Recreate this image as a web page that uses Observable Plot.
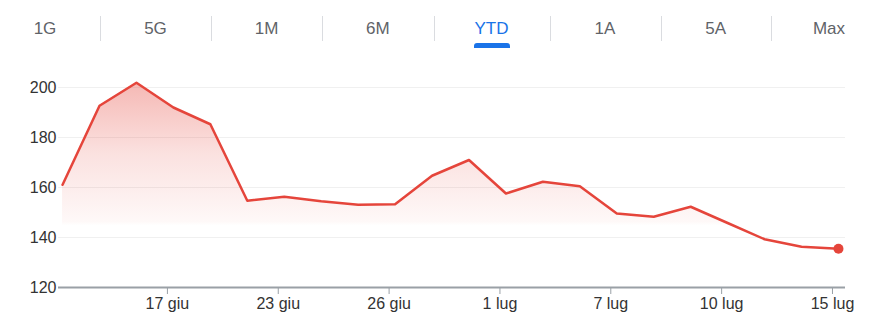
<!DOCTYPE html>
<html>
<head>
<meta charset="utf-8">
<script src="https://cdn.jsdelivr.net/npm/d3@7"></script>
<script src="https://cdn.jsdelivr.net/npm/@observablehq/plot@0.6"></script>
<style>
  html, body { margin: 0; padding: 0; background: #fff; }
  body { width: 872px; height: 336px; overflow: hidden; font-family: Arial, "Liberation Sans", sans-serif; }
  #tabs { position: relative; width: 872px; height: 56px; }
  .tab { position: absolute; top: 17px; height: 24px; line-height: 24px; text-align: center; font-size: 17px; color: #5f6368; }
  .tab.sel { color: #1a73e8; }
  .sep { position: absolute; top: 16px; width: 1px; height: 25px; background: #dadce0; }
  .bar { position: absolute; top: 43px; height: 5px; background: #1a73e8; border-radius: 3px 3px 0 0; }
  #chart svg { display: block; }
</style>
</head>
<body>
<div id="tabs"></div>
<div id="chart"></div>
<script>
// Range tabs
const tabLabels = ["1G", "5G", "1M", "6M", "YTD", "1A", "5A", "Max"];
const selectedTab = "YTD";

// Price series (evenly spaced sessions)
const values = [161.1, 192.7, 201.9, 192.0, 185.3, 154.7, 156.3, 154.5, 153.1, 153.3, 164.7,
                171.0, 157.6, 162.3, 160.5, 149.6, 148.3, 152.3, 145.8, 139.3, 136.3, 135.5];

// X tick labels and the session index they belong to
const xTickLabels = ["17 giu", "23 giu", "26 giu", "1 lug", "7 lug", "10 lug", "15 lug"];
const xTickIndex = [3, 6, 9, 12, 15, 18, 21];

// Y ticks
const yTicks = [120, 140, 160, 180, 200];

// ---- tabs (HTML) ----
const tabs = document.getElementById("tabs");
const tabEdges = [-10, 100, 211, 322, 433.5, 549.5, 660.5, 771, 887];
tabLabels.forEach((t, i) => {
  const x0 = tabEdges[i], x1 = tabEdges[i + 1];
  const el = document.createElement("div");
  el.className = "tab" + (t === selectedTab ? " sel" : "");
  el.style.left = x0 + "px";
  el.style.width = (x1 - x0) + "px";
  el.textContent = t;
  tabs.appendChild(el);
  if (i > 0) {
    const s = document.createElement("div");
    s.className = "sep";
    s.style.left = x0 + "px";
    tabs.appendChild(s);
  }
  if (t === selectedTab) {
    const b = document.createElement("div");
    b.className = "bar";
    const c = (x0 + x1) / 2;
    b.style.left = (c - 18) + "px";
    b.style.width = "36px";
    tabs.appendChild(b);
  }
});

// ---- chart ----
const data = values.map((v, i) => ({i, v}));
const last = data.length - 1;
const red = "#e5453b";

const chart = Plot.plot({
  width: 872,
  height: 280,
  marginLeft: 58,
  marginRight: 27,
  marginTop: 31,
  marginBottom: 49,
  style: {fontFamily: 'Arial, "Liberation Sans", sans-serif', fontSize: "16px", color: "#333", background: "#fff"},
  x: {type: "linear", domain: [-0.11, 21.19], label: null},
  y: {domain: [120, 200], label: null},
  marks: [
    Plot.gridY(yTicks, {stroke: "#000", strokeOpacity: 0.06, strokeWidth: 1}),
    Plot.areaY(data, {x: "i", y1: 120, y2: "v", fill: "url(#fadeRed)"}),
    Plot.ruleY([120], {stroke: "#9aa0a6", strokeWidth: 2}),
    Plot.axisY(yTicks, {tickSize: 0, tickPadding: 2, fontSize: 16, fill: "#333", label: null}),
    Plot.axisX(xTickIndex, {
      tickSize: 7, tickPadding: 3, dx: -6, stroke: "#9aa0a6", fontSize: 16, fill: "#333", label: null,
      tickFormat: (d) => xTickLabels[xTickIndex.indexOf(d)]
    }),
    Plot.line(data, {x: "i", y: "v", stroke: red, strokeWidth: 2.5, strokeLinejoin: "round"}),
    Plot.dot(data, {x: "i", y: "v", filter: (d) => d.i === last, r: 5, fill: red, stroke: "none"})
  ]
});

const svg = d3.select(chart);
const grad = svg.insert("defs", ":first-child").append("linearGradient")
  .attr("id", "fadeRed").attr("x1", 0).attr("y1", 0).attr("x2", 0).attr("y2", 1);
grad.append("stop").attr("offset", "0").attr("stop-color", red).attr("stop-opacity", 0.38);
grad.append("stop").attr("offset", "0.35").attr("stop-color", red).attr("stop-opacity", 0.16);
grad.append("stop").attr("offset", "0.68").attr("stop-color", red).attr("stop-opacity", 0.035);
grad.append("stop").attr("offset", "0.7").attr("stop-color", red).attr("stop-opacity", 0);
grad.append("stop").attr("offset", "1").attr("stop-color", red).attr("stop-opacity", 0);

document.getElementById("chart").appendChild(chart);
</script>
</body>
</html>
